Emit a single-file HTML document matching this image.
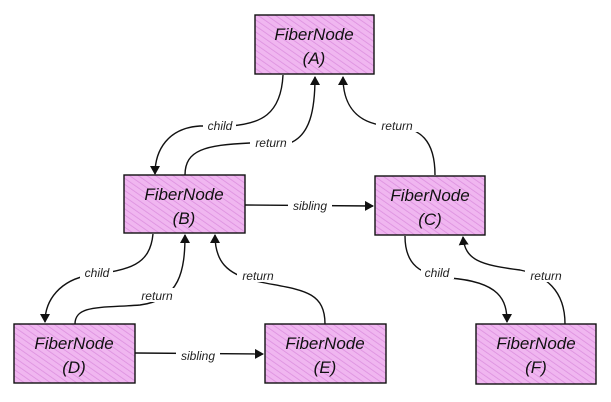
<!DOCTYPE html>
<html><head><meta charset="utf-8"><style>
html,body{margin:0;padding:0;background:#fff;width:611px;height:402px;overflow:hidden}
svg{display:block}
.n{font-family:"Liberation Sans",sans-serif;font-style:italic;font-size:17px;fill:#111;text-anchor:middle}
.l{font-family:"Liberation Sans",sans-serif;font-style:italic;font-size:12px;fill:#222;text-anchor:middle}
.c{fill:none;stroke:#111;stroke-width:1.4}
.lb{fill:#fff}
</style></head><body>
<svg width="611" height="402" viewBox="0 0 611 402">
<defs>
<pattern id="h" width="5" height="5" patternUnits="userSpaceOnUse" patternTransform="rotate(-55)">
<rect width="5" height="5" fill="#f0b6f0"/><line x1="0" y1="0" x2="0" y2="5" stroke="#dc8fdf" stroke-width="1.6"/>
</pattern>
<marker id="a" markerWidth="10" markerHeight="10" refX="8" refY="5" orient="auto" markerUnits="userSpaceOnUse">
<path d="M0,0 L9,5 L0,10 Z" fill="#111"/></marker>
</defs>
<!-- connectors -->
<path class="c" d="M283,75 C281,115 260,124 230,126 L200,126 C168,128 155,150 155,174" marker-end="url(#a)"/>
<path class="c" d="M185,175 C185,150 205,145 250,143 L290,143 C310,135 315,110 315,77" marker-end="url(#a)"/>
<path class="c" d="M435,175 C435,140 420,128 395,126 L380,125 C352,120 343,100 343,77" marker-end="url(#a)"/>
<path class="c" d="M245,205 L373,206" marker-end="url(#a)"/>
<path class="c" d="M153,234 C150,265 130,270 90,275 C60,280 45,300 45,322" marker-end="url(#a)"/>
<path class="c" d="M75,324 C75,305 100,308 140,305 C180,300 185,270 185,235" marker-end="url(#a)"/>
<path class="c" d="M325,324 C325,290 300,290 260,282 C225,275 215,260 215,235" marker-end="url(#a)"/>
<path class="c" d="M405,236 C405,265 420,275 450,278 C500,282 507,300 507,322" marker-end="url(#a)"/>
<path class="c" d="M565,324 C565,290 545,275 520,270 C480,265 465,260 463,237" marker-end="url(#a)"/>
<path class="c" d="M135,353 L263,354" marker-end="url(#a)"/>
<!-- labels -->
<rect class="lb" x="203" y="118" width="33" height="14"/><text class="l" x="220" y="130">child</text>
<rect class="lb" x="250" y="135" width="42" height="14"/><text class="l" x="271" y="147">return</text>
<rect class="lb" x="376" y="118" width="42" height="14"/><text class="l" x="397" y="130">return</text>
<rect class="lb" x="288" y="198" width="44" height="14"/><text class="l" x="310" y="210">sibling</text>
<rect class="lb" x="80" y="265" width="33" height="14"/><text class="l" x="97" y="277">child</text>
<rect class="lb" x="136" y="288" width="42" height="14"/><text class="l" x="157" y="300">return</text>
<rect class="lb" x="237" y="268" width="42" height="14"/><text class="l" x="258" y="280">return</text>
<rect class="lb" x="421" y="265" width="33" height="14"/><text class="l" x="437" y="277">child</text>
<rect class="lb" x="525" y="268" width="42" height="14"/><text class="l" x="546" y="280">return</text>
<rect class="lb" x="176" y="348" width="44" height="14"/><text class="l" x="198" y="360">sibling</text>
<!-- nodes -->
<g stroke="#111" stroke-width="1.4" fill="url(#h)">
<rect x="255" y="15" width="119" height="59"/>
<rect x="124" y="175" width="121" height="58"/>
<rect x="375" y="176" width="110" height="59"/>
<rect x="14" y="324" width="121" height="59"/>
<rect x="265" y="324" width="121" height="59"/>
<rect x="476" y="324" width="120" height="60"/>
</g>
<text class="n" x="314" y="40">FiberNode</text><text class="n" x="314" y="64">(A)</text>
<text class="n" x="184" y="200">FiberNode</text><text class="n" x="184" y="224">(B)</text>
<text class="n" x="430" y="201">FiberNode</text><text class="n" x="430" y="225">(C)</text>
<text class="n" x="74" y="349">FiberNode</text><text class="n" x="74" y="373">(D)</text>
<text class="n" x="325" y="349">FiberNode</text><text class="n" x="325" y="373">(E)</text>
<text class="n" x="536" y="349">FiberNode</text><text class="n" x="536" y="373">(F)</text>
</svg>
</body></html>
